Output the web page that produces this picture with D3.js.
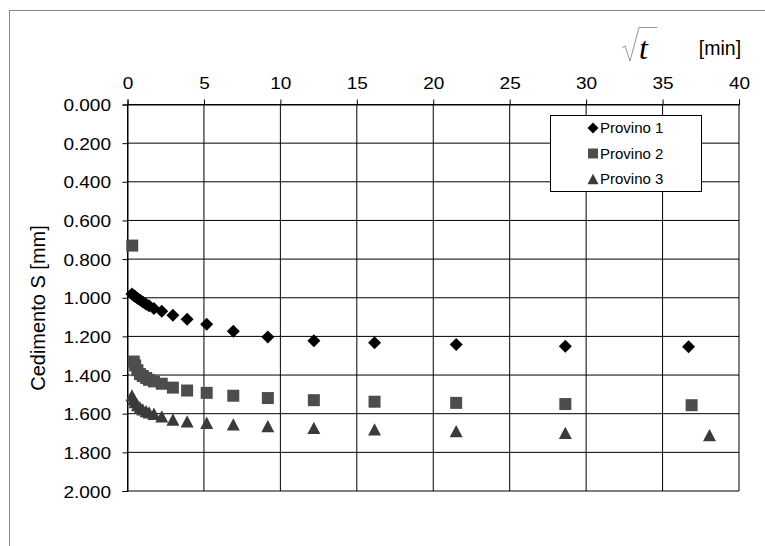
<!DOCTYPE html>
<html>
<head>
<meta charset="utf-8">
<script src="https://cdn.jsdelivr.net/npm/d3@7"></script>
<style>
  html, body { margin: 0; padding: 0; background: #fff; }
  svg { display: block; }
</style>
</head>
<body>
<svg id="chart" width="765" height="546"></svg>
<script>
// ---- data ----
const xTicks = [0, 5, 10, 15, 20, 25, 30, 35, 40];
const yTicks = [0, 0.2, 0.4, 0.6, 0.8, 1.0, 1.2, 1.4, 1.6, 1.8, 2.0];
const yTickLabels = ["0.000", "0.200", "0.400", "0.600", "0.800", "1.000", "1.200", "1.400", "1.600", "1.800", "2.000"];
const seriesNames = ["Provino 1", "Provino 2", "Provino 3"];

const x1 = [0.29, 0.41, 0.5, 0.65, 0.82, 1.0, 1.22, 1.41, 1.73, 2.24, 2.97, 3.9, 5.18, 6.92, 9.18, 12.19, 16.16, 21.5, 28.64, 36.7];
const s1 = [0.980, 0.988, 0.994, 1.003, 1.012, 1.022, 1.034, 1.042, 1.056, 1.070, 1.090, 1.111, 1.137, 1.173, 1.203, 1.223, 1.233, 1.242, 1.251, 1.254];

const x2 = [0.31, 0.41, 0.5, 0.65, 0.82, 1.0, 1.22, 1.41, 1.73, 2.24, 2.97, 3.9, 5.18, 6.92, 9.18, 12.19, 16.16, 21.5, 28.64, 36.9];
const s2 = [0.730, 1.330, 1.350, 1.375, 1.395, 1.405, 1.415, 1.425, 1.433, 1.445, 1.465, 1.480, 1.492, 1.507, 1.519, 1.530, 1.538, 1.544, 1.550, 1.556];

const x3 = [0.29, 0.41, 0.5, 0.65, 0.82, 1.0, 1.22, 1.41, 1.73, 2.24, 2.97, 3.9, 5.18, 6.92, 9.18, 12.19, 16.16, 21.5, 28.64, 38.07];
const s3 = [1.505, 1.525, 1.540, 1.555, 1.568, 1.578, 1.587, 1.593, 1.600, 1.614, 1.630, 1.640, 1.647, 1.655, 1.664, 1.673, 1.681, 1.690, 1.699, 1.711];

// ---- setup ----
const svg = d3.select("#chart");
const W = 765, H = 546;
const x = d3.scaleLinear().domain([0, 40]).range([127.5, 739]);
const y = d3.scaleLinear().domain([0, 2]).range([104.5, 491]);
const FONT = "'Liberation Sans', Arial, sans-serif";

// outer border (extends past viewport)
svg.append("rect").attr("x", 9.5).attr("y", 10.5).attr("width", 900).attr("height", 700)
  .attr("fill", "none").attr("stroke", "#888").attr("stroke-width", 1);

// gridlines
const g = svg.append("g");
g.selectAll(".hg").data(yTicks).join("line")
  .attr("x1", x(0)).attr("x2", x(40))
  .attr("y1", d => y(d)).attr("y2", d => y(d))
  .attr("stroke", "#000").attr("stroke-width", 1);
g.selectAll(".vg").data(xTicks).join("line")
  .attr("y1", y(0)).attr("y2", y(2))
  .attr("x1", d => x(d)).attr("x2", d => x(d))
  .attr("stroke", "#000").attr("stroke-width", 1);

// top axis
const xAxis = d3.axisTop(x).tickValues(xTicks).tickSize(5).tickPadding(4).tickFormat(d3.format("d"));
const gx = svg.append("g").attr("transform", `translate(0,${y(0)})`).call(xAxis);
gx.select(".domain").attr("stroke", "#000");
gx.selectAll(".tick line").attr("stroke", "#000");
gx.selectAll(".tick text").each(function(d) {
  d3.select(this).attr("y", null).attr("dy", null)
    .attr("transform", `translate(0,-16) scale(1.12,1)`)
    .attr("font-family", FONT).attr("font-size", 17).attr("fill", "#000");
});

// left axis
const yAxis = d3.axisLeft(y).tickValues(yTicks).tickSize(5).tickPadding(12)
  .tickFormat((d, i) => yTickLabels[i]);
const gy = svg.append("g").attr("transform", `translate(${x(0)},0)`).call(yAxis);
gy.select(".domain").attr("stroke", "#000");
gy.selectAll(".tick line").attr("stroke", "#000");
gy.selectAll(".tick text").each(function(d) {
  d3.select(this).attr("x", null).attr("dy", null)
    .attr("transform", `translate(-16.5,6) scale(1.12,1)`)
    .attr("font-family", FONT).attr("font-size", 17).attr("fill", "#000");
});

// y axis title
svg.append("text")
  .attr("transform", `translate(45,308) rotate(-90)`)
  .attr("text-anchor", "middle")
  .attr("font-family", FONT).attr("font-size", 20).attr("fill", "#000")
  .text("Cedimento S [mm]");

// sqrt(t) label
svg.append("path")
  .attr("d", d3.line()([[622, 48], [625, 46], [630, 61], [639, 27.5], [657, 27.5]]))
  .attr("fill", "none").attr("stroke", "#777").attr("stroke-width", 0.8);
svg.append("text")
  .attr("x", 639).attr("y", 59)
  .attr("font-family", "'Liberation Serif', 'Times New Roman', serif")
  .attr("font-style", "italic").attr("font-size", 32).attr("fill", "#000")
  .text("t");
svg.append("text")
  .attr("x", 720).attr("y", 55).attr("text-anchor", "middle")
  .attr("font-family", FONT).attr("font-size", 19.5).attr("fill", "#000")
  .text("[min]");

// custom symbols
const diamond = { draw(ctx, size) { const r = Math.sqrt(size) / 2; ctx.moveTo(0, -r); ctx.lineTo(r, 0); ctx.lineTo(0, r); ctx.lineTo(-r, 0); ctx.closePath(); } };
const square = { draw(ctx, size) { const r = Math.sqrt(size) / 2; ctx.rect(-r, -r, 2 * r, 2 * r); } };
const tri = { draw(ctx, size) { const r = Math.sqrt(size) / 2; const h = r * 0.95; ctx.moveTo(0, -h); ctx.lineTo(r, h); ctx.lineTo(-r, h); ctx.closePath(); } };

const series = [
  { xs: x1, ys: s1, type: diamond, size: 13 * 13, color: "#000000" },
  { xs: x2, ys: s2, type: square, size: 12 * 12, color: "#4d4d4d" },
  { xs: x3, ys: s3, type: tri, size: 13 * 13, color: "#3a3a3a" }
];

series.forEach(s => {
  const pts = s.xs.map((v, i) => [v, s.ys[i]]);
  svg.append("g").selectAll("path").data(pts).join("path")
    .attr("d", d3.symbol().type(s.type).size(s.size))
    .attr("transform", d => `translate(${x(d[0])},${y(d[1])})`)
    .attr("fill", s.color);
});

// legend
const lg = svg.append("g");
lg.append("rect").attr("x", 550.5).attr("y", 115.5).attr("width", 151).attr("height", 76)
  .attr("fill", "#fff").attr("stroke", "#000").attr("stroke-width", 1);
const legendRows = [128, 153.5, 179];
const legendSizes = [11 * 11, 10 * 10, 11 * 11];
seriesNames.forEach((name, i) => {
  lg.append("path")
    .attr("d", d3.symbol().type(series[i].type).size(legendSizes[i]))
    .attr("transform", `translate(593,${legendRows[i]})`)
    .attr("fill", series[i].color);
  lg.append("text")
    .attr("x", 600).attr("y", legendRows[i] + 5.3)
    .attr("font-family", FONT).attr("font-size", 15).attr("fill", "#000")
    .text(name);
});
</script>
</body>
</html>
